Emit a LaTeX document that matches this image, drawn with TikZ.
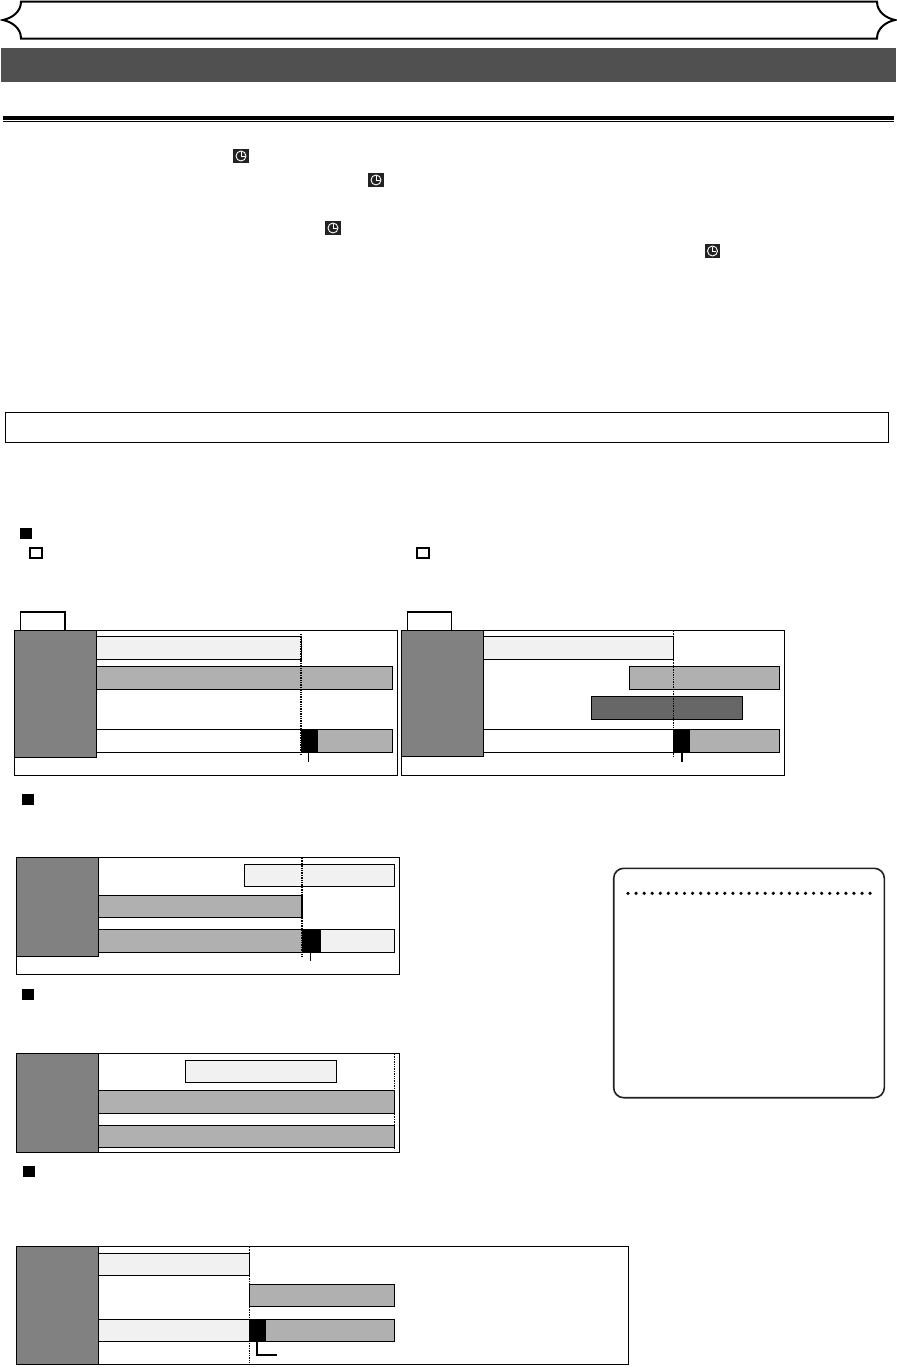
\documentclass[tikz,border=0pt]{standalone}
\usepackage{tikz}
\begin{document}
\begin{tikzpicture}[x=1pt,y=-1pt,line width=1.15pt,
panel/.style={draw,fill=white},
block/.style={draw,fill=block},
lightbar/.style={draw,fill=lightbar},
midbar/.style={draw,fill=midbar},
darkbar/.style={draw,fill=darkbar},
cursor/.style={line width=1.2pt,dash pattern=on 1.3pt off 1.1pt},
tab/.style={line width=1.8pt},
openmark/.style={draw,fill=white,line width=1.6pt},
clockbg/.style={fill=clockbg}]
\definecolor{block}{HTML}{818181}
\definecolor{lightbar}{HTML}{F1F1F1}
\definecolor{midbar}{HTML}{B0B0B0}
\definecolor{darkbar}{HTML}{676767}
\definecolor{banner}{HTML}{505050}
\definecolor{clockbg}{HTML}{222222}
\useasboundingbox[fill=white] (0,0) rectangle (897,1369);
% header
\draw[line width=2pt] (21,1.5) -- (877,1.5) .. controls (877,12) and (886,18) .. (895,20)
  .. controls (886,22) and (877,28) .. (877,38.5) -- (21,38.5)
  .. controls (21,28) and (12,22) .. (3,20) .. controls (12,18) and (21,12) .. (21,1.5) -- cycle;
\fill[banner] (1,48) rectangle (896,82);
\fill (3,116) rectangle (894,119.5);
\draw[line width=1pt] (3,121.5) -- (894,121.5);
\foreach \cx/\cy in {241/156,376/180,333/228,712.5/251}{
  \fill[clockbg] (\cx-7.7,\cy-7.2) rectangle (\cx+7.7,\cy+7.2);
  \draw[white,line width=.9pt] (\cx,\cy) circle (5);
  \draw[white,line width=.9pt] (\cx,\cy-4) -- (\cx,\cy) -- (\cx+3.5,\cy);
}
\draw (5.5,412.5) rectangle (888.7,442.5);
% marks
\foreach \mx/\my in {20/528,22/794,22/989,22.5/1166}
  \fill (\mx,\my) rectangle (\mx+12,\my+11);
\foreach \mx in {30,417}
  \draw[openmark] (\mx,547.7) rectangle (\mx+12,558);
% first pair
\draw[tab] (20.5,630) |- (65,612) -- (65,630);
\draw[panel] (14.3,630.3) rectangle (397.3,775.3);
\draw[block] (14.3,630.3) rectangle (96.3,757.3);
\draw[lightbar] (96.3,636.3) rectangle (301.3,659.3);
\draw[midbar] (96.3,666.3) rectangle (392.3,689.3);
\draw[midbar] (96.3,729.3) rectangle (392.3,752.3);
\fill[white] (96.9,729.9) rectangle (301,751.7);
\fill (301,729) rectangle (318,752.6);
\draw[cursor] (301,634) -- (301,755);
\draw (308.5,752.3) -- (308.5,761.7);
\draw[tab] (407.5,630) |- (451.5,612) -- (451.5,630);
\draw[panel] (401.3,630.3) rectangle (784.3,775.7);
\draw[block] (401.3,630.3) rectangle (483.7,756.3);
\draw[lightbar] (483.7,636.3) rectangle (673.3,659.3);
\draw[midbar] (629.3,666.3) rectangle (779.3,689.3);
\draw[darkbar] (591.7,696.3) rectangle (742.3,719.3);
\draw[midbar] (483.7,729.3) rectangle (779.3,752.3);
\fill[white] (484.3,729.9) rectangle (673.3,751.7);
\fill (673.3,729) rectangle (690,752.6);
\draw[cursor] (673.3,631) -- (673.3,758);
\draw[tab] (682,752.3) -- (682,761.7);
% second
\draw[panel] (16.3,857.3) rectangle (399.3,974.3);
\draw[block] (16.3,857.3) rectangle (98.7,956.3);
\draw[lightbar] (244.3,864.3) rectangle (394.7,886.7);
\draw[midbar] (98.7,895.3) rectangle (302,917.3);
\draw[midbar] (98.7,929.3) rectangle (394.7,952.7);
\fill[lightbar] (320,929.9) rectangle (394.1,952.1);
\fill (302,929) rectangle (320,953);
\draw[cursor] (302,858) -- (302,956.7);
\draw (310.3,952.7) -- (310.3,961);
% third
\draw[panel] (16.3,1053.3) rectangle (399.3,1152.3);
\draw[block] (16.3,1053.3) rectangle (98.7,1152.3);
\draw[lightbar] (185.3,1060.3) rectangle (336.7,1082.7);
\draw[midbar] (98.7,1090.3) rectangle (394.7,1113.3);
\draw[midbar] (98.7,1125.3) rectangle (394.7,1147.7);
\draw[cursor,line width=.9pt] (394.5,1054) -- (394.5,1150);
% fourth
\draw[panel] (16.3,1246.3) rectangle (628.7,1364.3);
\draw[block] (16.3,1246.3) rectangle (98.9,1364.3);
\draw[lightbar] (98.9,1253.3) rectangle (249.6,1275.7);
\draw[midbar] (249.6,1284.3) rectangle (394.7,1306.7);
\draw[midbar] (98.9,1319.3) rectangle (394.7,1341.7);
\draw[lightbar] (98.9,1319.3) rectangle (249.6,1341.7);
\fill (249.6,1319) rectangle (266.3,1342);
\draw[cursor,line width=.8pt] (249.6,1247) -- (249.6,1362.3);
\draw[tab] (257,1341.7) |- (277.4,1355);
% note box
\draw[line width=1.6pt,rounded corners=10pt,draw=clockbg] (613.7,868.3) rectangle (884.3,1097.7);
\foreach \i in {0,...,30}
  \fill (628+8.07*\i,893.3) circle (1.8);
\end{tikzpicture}
\end{document}
